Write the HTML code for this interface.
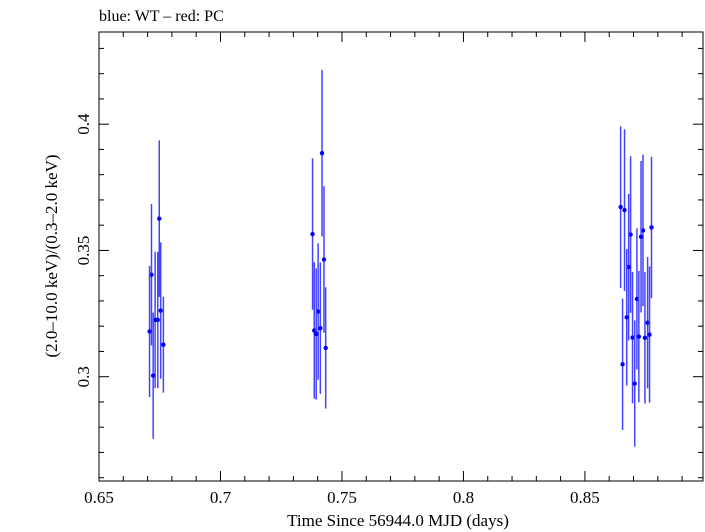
<!DOCTYPE html>
<html><head><meta charset="utf-8"><style>
body{margin:0;background:#fff}
svg{display:block;font-family:"Liberation Serif",serif}
</style></head><body>
<svg id="chart" width="705" height="532" viewBox="0 0 705 532">
<text x="99" y="21" font-size="16">blue: WT – red: PC</text>
<g id="axes"></g>
<g id="marks"></g>
<text x="398" y="526" font-size="17" text-anchor="middle">Time Since 56944.0 MJD (days)</text>
<text transform="translate(57,256) rotate(-90)" font-size="17" text-anchor="middle">(2.0–10.0 keV)/(0.3–2.0 keV)</text>
</svg>
<script>
const times=[0.6748,0.6716,0.6754,0.6731,0.6742,0.6708,0.6765,0.6723,
0.7418,0.7379,0.7426,0.7402,0.7386,0.7411,0.7394,0.7433,
0.8647,0.8663,0.8688,0.8774,0.8739,0.8731,0.8680,0.8714,0.8672,0.8758,0.8696,0.8722,0.8747,0.8766,0.8655,0.8705];
const ratios=[0.3626,0.3404,0.3262,0.3225,0.3225,0.3179,0.3127,0.3004,
0.3885,0.3565,0.3464,0.3258,0.3183,0.3192,0.3169,0.3114,
0.3672,0.3660,0.3563,0.3591,0.3579,0.3554,0.3434,0.3308,0.3235,0.3214,0.3155,0.3159,0.3154,0.3167,0.3049,0.2973];
const errors=[0.031,0.028,0.027,0.027,0.027,0.026,0.019,0.025,
0.033,0.030,0.029,0.027,0.027,0.026,0.026,0.024,
0.032,0.032,0.031,0.028,0.030,0.030,0.029,0.028,0.027,0.026,0.026,0.026,0.026,0.027,0.026,0.025];
const xTicks=[0.65,0.7,0.75,0.8,0.85];
const xTickLabels=["0.65","0.7","0.75","0.8","0.85"];
const yTicks=[0.3,0.35,0.4];
const yTickLabels=["0.3","0.35","0.4"];

const L=99,R=703,T=32,B=481;
const X0=0.65,X1=0.8986,Y0=0.2587,Y1=0.4365;
const sx=v=>L+(v-X0)/(X1-X0)*(R-L);
const sy=v=>B-(v-Y0)/(Y1-Y0)*(B-T);
const NS="http://www.w3.org/2000/svg";
function mk(t,a,p){const e=document.createElementNS(NS,t);for(const k in a)e.setAttribute(k,a[k]);p.appendChild(e);return e;}
const ax=document.getElementById('axes'),mg=document.getElementById('marks');
const frame=mk('rect',{x:L,y:T,width:R-L,height:B-T,fill:'none',stroke:'#000','stroke-width':1},ax);


// minor ticks
for(let i=65;i<=89;i++){const v=i/100,x=sx(v);const maj=i%5===0;const len=maj?10:5;
 const t1=mk('line',{x1:x,x2:x,y1:B,y2:B-len,stroke:'#000','stroke-width':1},ax);
 
 
 const t2=mk('line',{x1:x,x2:x,y1:T,y2:T+len,stroke:'#000','stroke-width':1},ax);
 
 }
for(let i=26;i<=43;i++){const v=i/100,y=sy(v);const maj=i%5===0;const len=maj?10:5;
 const t1=mk('line',{x1:L,x2:L+len,y1:y,y2:y,stroke:'#000','stroke-width':1},ax);
 
 
 const t2=mk('line',{x1:R,x2:R-len,y1:y,y2:y,stroke:'#000','stroke-width':1},ax);
 
 }
xTicks.forEach((v,i)=>{const t=mk('text',{x:sx(v),y:503,'font-size':17,'text-anchor':'middle'},ax);t.textContent=xTickLabels[i];
 
 });
yTicks.forEach((v,i)=>{const t=mk('text',{transform:`translate(89,${sy(v)}) rotate(-90)`,'font-size':17,'text-anchor':'middle'},ax);t.textContent=yTickLabels[i];
 
 });
times.forEach((tv,i)=>{const x=sx(tv);
 const l=mk('line',{x1:x,x2:x,y1:sy(ratios[i]+errors[i]),y2:sy(ratios[i]-errors[i]),stroke:'#4444ff','stroke-width':1.5},mg);
 
 
 const c=mk('circle',{cx:x,cy:sy(ratios[i]),r:2.2,fill:'#0000ff'},mg);
 
 });
</script>
</body></html>
